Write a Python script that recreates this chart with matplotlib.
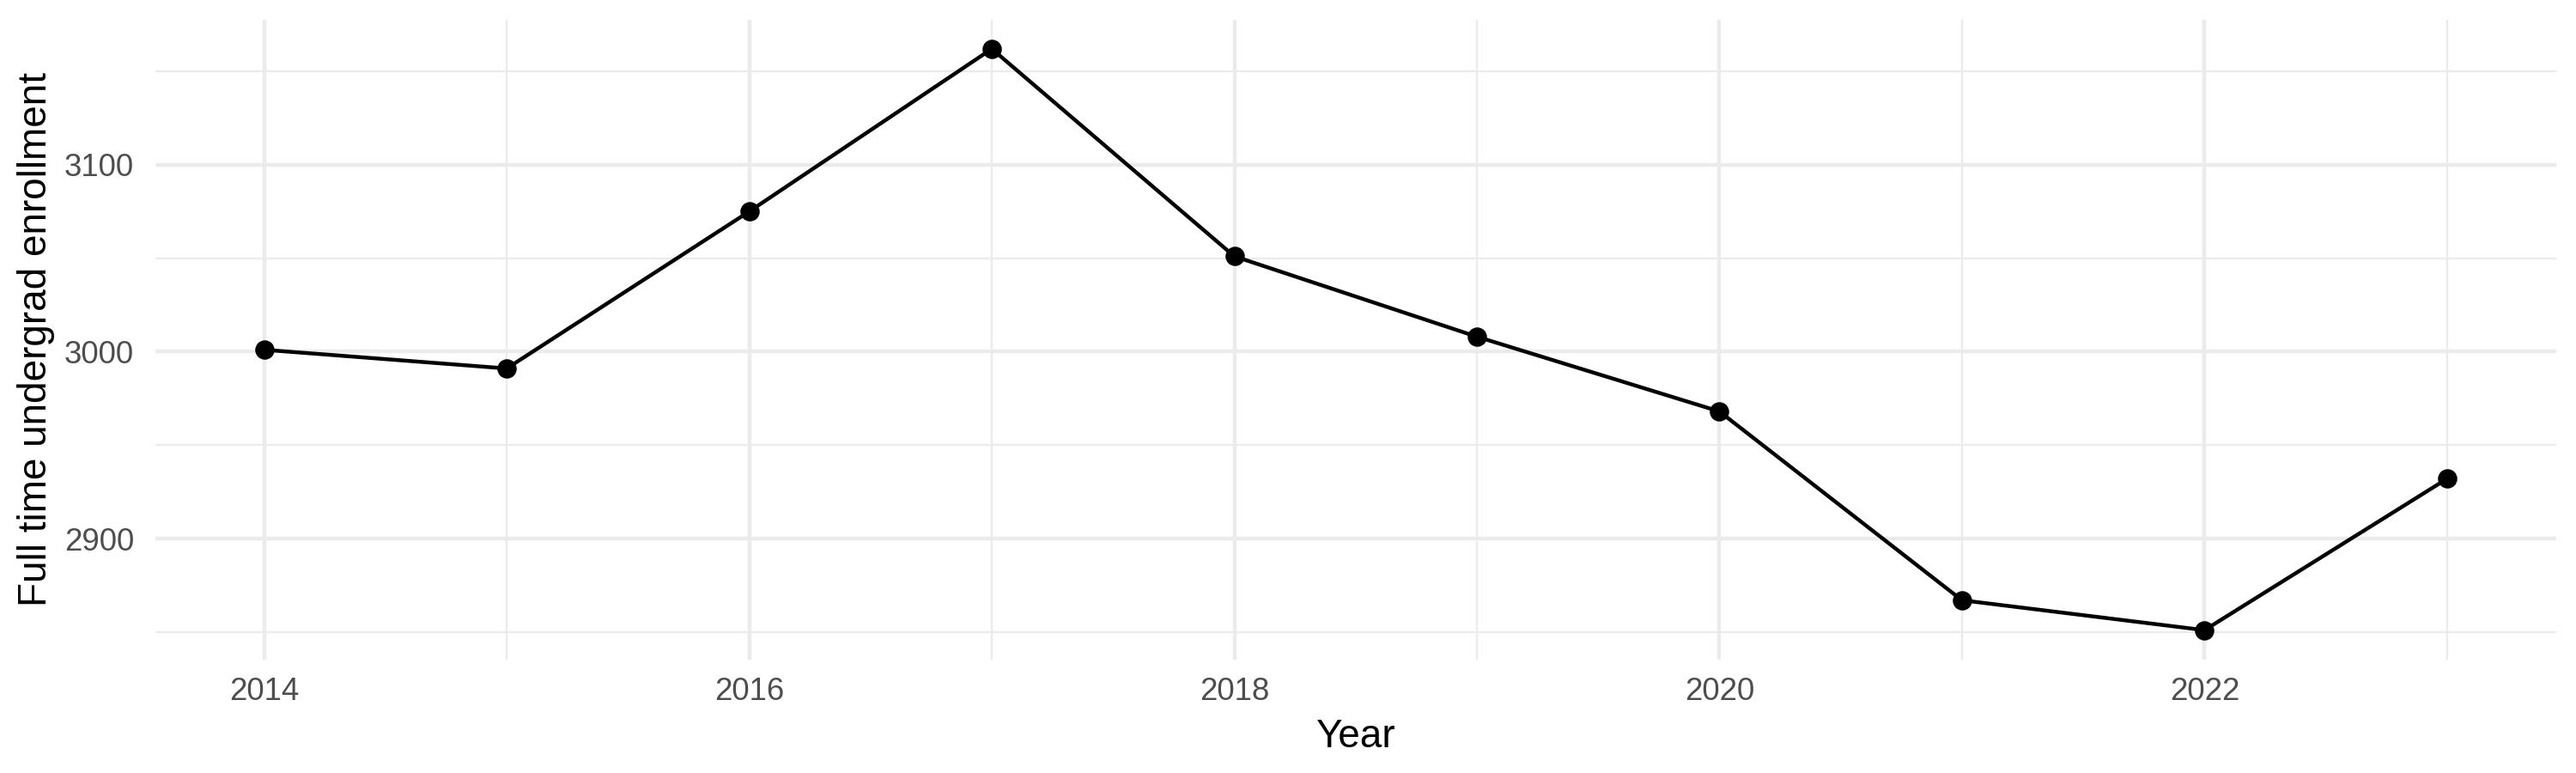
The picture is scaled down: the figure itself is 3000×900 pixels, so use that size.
import matplotlib
matplotlib.use("Agg")
import matplotlib.pyplot as plt
from matplotlib.ticker import MultipleLocator

# enrollment data
years = [2014, 2015, 2016, 2017, 2018, 2019, 2020, 2021, 2022, 2023]
enrollment = [3001, 2991, 3075, 3162, 3051, 3008, 2968, 2867, 2851, 2932]

plt.rcParams['font.family'] = ['Liberation Sans', 'DejaVu Sans']

fig = plt.figure(figsize=(10, 3), dpi=300)
ax = fig.add_axes([0.0602, 0.1472, 0.9321, 0.8272])

ax.plot(years, enrollment, color='black', linewidth=1.07, zorder=3)
ax.plot(years, enrollment, 'o', color='black', markersize=4.4, zorder=4)

# ggplot-like limits (5% expansion)
span_x = max(years) - min(years)
span_y = max(enrollment) - min(enrollment)
ax.set_xlim(min(years) - 0.05 * span_x, max(years) + 0.05 * span_x)
ax.set_ylim(min(enrollment) - 0.05 * span_y, max(enrollment) + 0.05 * span_y)

ax.xaxis.set_major_locator(MultipleLocator(2))
ax.xaxis.set_minor_locator(MultipleLocator(1))
ax.yaxis.set_major_locator(MultipleLocator(100))
ax.yaxis.set_minor_locator(MultipleLocator(50))

ax.grid(which='major', color='#EBEBEB', linewidth=1.07)
ax.grid(which='minor', color='#EBEBEB', linewidth=0.53)
ax.set_axisbelow(True)

for s in ax.spines.values():
    s.set_visible(False)

ax.tick_params(which='both', length=0)
ax.tick_params(axis='x', labelsize=8.8, labelcolor='#4D4D4D', pad=5)
ax.tick_params(axis='y', labelsize=8.8, labelcolor='#4D4D4D', pad=5.9)

ax.set_xlabel('Year', fontsize=11, labelpad=3)
ax.set_ylabel('Full time undergrad enrollment', fontsize=11, labelpad=2.5)

fig.savefig('out.png', dpi=300, facecolor='white')
